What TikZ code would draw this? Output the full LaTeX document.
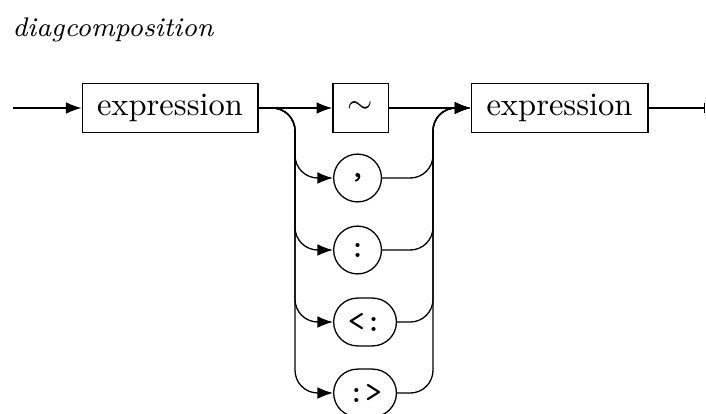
\documentclass[tikz,border=0pt]{standalone}
\usetikzlibrary{arrows.meta}
\tikzset{
    rail/.style={-{Latex[length=4.8pt,width=3.6pt]}},
    railend/.style={-{Bar[width=3.2pt]}},
}

\begin{document}
\begin{tikzpicture}[x=0.0108cm,y=-0.0108cm]

    \useasboundingbox (0,0) rectangle (706,413);
    \node[anchor=base west,inner sep=0pt,font=\fontsize{8.3pt}{10pt}\selectfont] (title) at (12,37) {\textit{diagcomposition}};

    \coordinate (start) at (13,108);
    \coordinate (finish) at (705,108);
    \coordinate (split) at (295,108);
    \coordinate (join) at (433,108);

    \begin{scope}[every node/.style={draw,minimum height=15pt,inner sep=2pt}]
        \node[minimum width=54pt] (expr1) at (170,108) {expression};
        \node[minimum width=17pt] (tilde) at (360.5,108) {$\sim$};
        \node[minimum width=54.3pt] (expr2) at (559.5,108) {expression};
    \end{scope}

    \begin{scope}[every node/.style={draw,rounded corners=7.35pt,minimum height=14.7pt,minimum width=14.7pt,inner sep=1pt,font=\ttfamily,anchor=west}]
        \node (comma) at (333,178) {,};
        \node (colon) at (333,250) {:};
        \node[minimum width=19.3pt] (subtype) at (333,322) {<:};
        \node[minimum width=19.3pt] (supertype) at (333,393) {:>};
    \end{scope}

    % Main line %
    \draw[rail] (start) -- (expr1);
    \draw[rail] (expr1) -- (tilde);
    \draw[rail] (tilde) -- (expr2);
    \draw[railend] (expr2) -- (finish);

    % Alternatives %
    \foreach \n in {comma,colon,subtype,supertype} {
        \draw[rail,rounded corners=7pt] (expr1.east) -- (split) |- (\n.west);
        \draw[rail,rounded corners=7pt] (\n.east) -| (join) -- (expr2.west);
    }

\end{tikzpicture}
\end{document}
